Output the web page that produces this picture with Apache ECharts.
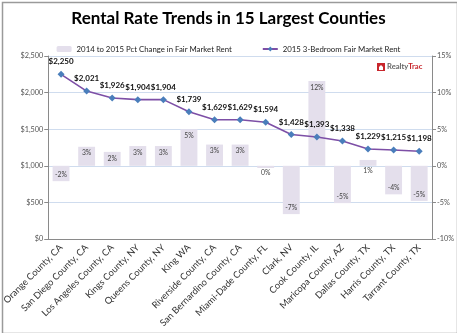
<!DOCTYPE html>
<html><head><meta charset="utf-8">
<script src="https://cdn.jsdelivr.net/npm/echarts@6/dist/echarts.min.js"></script>
<style>html,body{margin:0;padding:0;background:#fff}#c{width:457px;height:333px}</style>
</head><body><div id="c"></div>
<script>
const categories = ["Orange County, CA","San Diego County, CA","Los Angeles County, CA","Kings County, NY","Queens County, NY","King WA","Riverside County, CA","San Bernardino County, CA","Miami-Dade County, FL","Clark, NV","Cook County, IL","Maricopa County, AZ","Dallas County, TX","Harris County, TX","Tarrant County, TX"];
const rent = [2250,2021,1926,1904,1904,1739,1629,1629,1594,1428,1393,1338,1229,1215,1198];
const pctChange = [-2.1,2.6,1.9,2.7,2.7,5.0,2.9,2.9,-0.3,-6.6,11.6,-5.1,0.8,-3.9,-4.8];
const rentTicks = [0,500,1000,1500,2000,2500];
const pctTicks = [-10,-5,0,5,10,15];

const FONT = 'Lato';
const chart = echarts.init(document.getElementById('c'), null, {renderer:'canvas'});
const barData = pctChange.map(v => {
  let pos, dist = 3;
  if (v >= 1.5) pos = 'insideTop';
  else if (v <= -1.5) pos = 'insideBottom';
  else { pos = 'bottom'; dist = 1.5; }
  return {value: v, label: {position: pos, distance: dist}};
});
chart.setOption({
  animation: false,
  textStyle: {fontFamily: FONT},
  title: {text: 'Rental Rate Trends in 15 Largest Counties', left: 'center', top: 5,
    textStyle: {fontFamily: FONT, fontWeight: 'bold', fontSize: 17, color: '#000'}},
  legend: {top: 40, left: 'center', itemGap: 30, itemWidth: 15, itemHeight: 6,
    textStyle: {fontFamily: FONT, fontSize: 7.8, color: '#222'},
    data: ['2014 to 2015 Pct Change in Fair Market Rent', '2015 3-Bedroom Fair Market Rent']},
  grid: {left: 45, right: 25, top: 56, bottom: 94, containLabel: false},
  xAxis: {type: 'category', data: categories,
    axisLine: {lineStyle: {color: '#8a8a8a'}},
    axisTick: {alignWithLabel: false, length: 4, lineStyle: {color: '#8a8a8a'}},
    axisLabel: {rotate: 45, fontFamily: FONT, fontSize: 9.3, color: '#333', margin: 7, interval: 0}},
  yAxis: [
    {type: 'value', min: rentTicks[0], max: rentTicks[rentTicks.length-1], interval: 500,
      axisLine: {show: true, lineStyle: {color: '#8a8a8a'}},
      axisTick: {show: true, length: 4, lineStyle: {color: '#8a8a8a'}},
      axisLabel: {fontFamily: FONT, fontSize: 7.3, color: '#555', margin: 5, formatter: v => '$' + v.toLocaleString('en-US')},
      splitLine: {lineStyle: {color: '#cfdcee', width: 1}}},
    {type: 'value', min: pctTicks[0], max: pctTicks[pctTicks.length-1], interval: 5, position: 'right',
      axisLine: {show: true, lineStyle: {color: '#8a8a8a'}},
      axisTick: {show: true, length: 4, lineStyle: {color: '#8a8a8a'}},
      axisLabel: {fontFamily: FONT, fontSize: 7.3, color: '#555', margin: 5, formatter: v => v + '%'},
      splitLine: {show: false}}
  ],
  series: [
    {name: '2014 to 2015 Pct Change in Fair Market Rent', type: 'bar', yAxisIndex: 1, barWidth: '66%',
      itemStyle: {color: '#e4dfec'}, data: barData,
      label: {show: true, fontFamily: FONT, fontSize: 6.8, color: '#444',
        formatter: p => Math.round(p.value) + '%'}},
    {name: '2015 3-Bedroom Fair Market Rent', type: 'line', yAxisIndex: 0, data: rent, z: 5,
      symbol: 'diamond', symbolSize: 7,
      lineStyle: {color: '#7d4fa6', width: 1.6},
      itemStyle: {color: '#4a7ebb'},
      label: {show: true, position: 'top', distance: 5, fontFamily: FONT, fontSize: 8, fontWeight: 'bold', color: '#111',
        formatter: p => '$' + p.value.toLocaleString('en-US')}}
  ],
  graphic: [
    {type: 'rect', left: 0, top: 0, shape: {x: 0.5, y: 0.5, width: 455, height: 331},
      style: {fill: 'none', stroke: '#9a9a9a', lineWidth: 1.5}, silent: true},
    {type: 'rect', shape: {x: 377, y: 63, width: 8, height: 8}, style: {fill: '#c8262c'}},
    {type: 'polygon', shape: {points: [[379,67],[381,65],[383,67],[383,70],[379,70]]}, style: {fill: '#fff'}},
    {type: 'text', x: 387, y: 63, style: {text: '{a|Realty}{b|Trac}', rich: {
      a: {fontFamily: FONT, fontSize: 7.6, fontWeight: 'bold', fill: '#666'},
      b: {fontFamily: FONT, fontSize: 7.6, fontWeight: 'bold', fill: '#c8262c'}}}}
  ]
});
</script></body></html>
